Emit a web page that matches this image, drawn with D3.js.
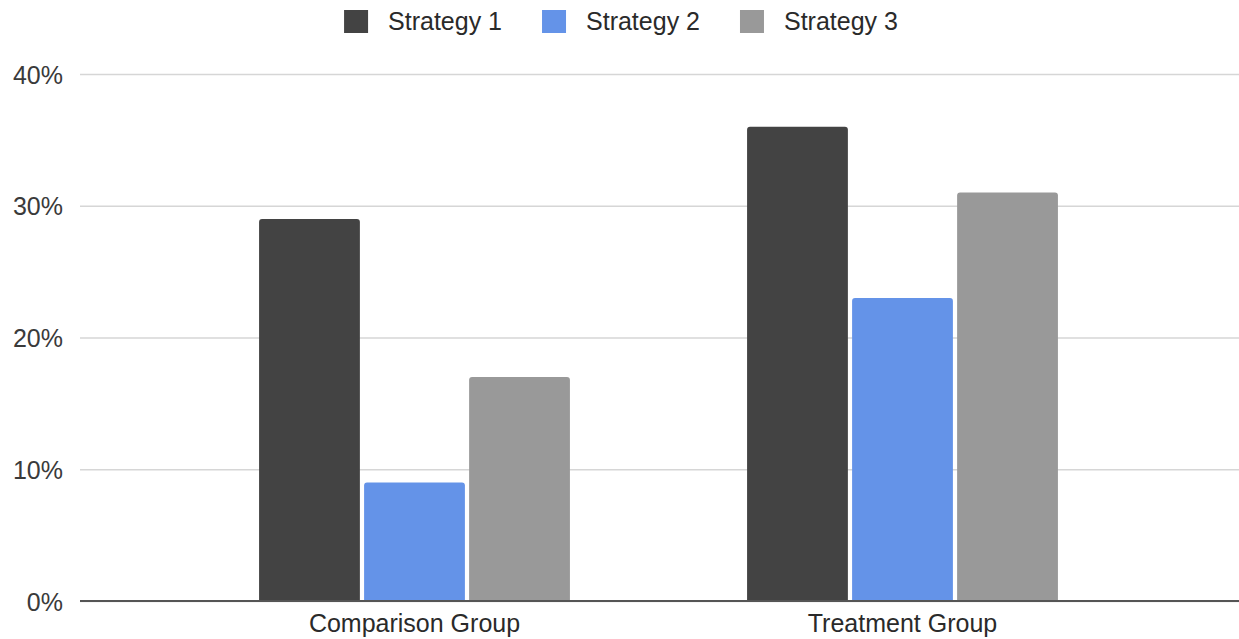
<!DOCTYPE html>
<html>
<head>
<meta charset="utf-8">
<script src="https://cdn.jsdelivr.net/npm/d3@7"></script>
<style>
  html, body { margin: 0; padding: 0; background: #fff; }
  text { font-family: "Liberation Sans", Arial, sans-serif; }
</style>
</head>
<body>
<div id="chart"></div>
<script>
const WIDTH = 1239;
const HEIGHT = 639;

// data
const groups = ['Comparison Group', 'Treatment Group'];
const series = ['Strategy 1', 'Strategy 2', 'Strategy 3'];
const strategy1 = [29, 36];
const strategy2 = [9, 23];
const strategy3 = [17, 31];
const yTicks = [0, 10, 20, 30, 40];
const colors = ['#434343', '#6493e8', '#999999'];

const values = [strategy1, strategy2, strategy3];

const SVG = d3.select('#chart')
    .append('svg')
    .attr('width', WIDTH)
    .attr('height', HEIGHT);

const plot = { left: 80, right: 1239, top: 74, bottom: 601 };

const y = d3.scaleLinear()
    .domain([0, 40])
    .range([plot.bottom, plot.top]);

const x0 = d3.scaleBand()
    .domain(groups)
    .range([170.5, 1146.5])
    .paddingInner(0.363)
    .paddingOuter(0.1815);

const x1 = d3.scaleBand()
    .domain(series)
    .range([0, x0.bandwidth()])
    .paddingInner(0.04);

// gridlines + tick labels
const yAxis = d3.axisLeft(y)
    .tickValues(yTicks)
    .tickSize(-(plot.right - plot.left))
    .tickPadding(17)
    .tickFormat(d => d + '%');

const gy = SVG.append('g')
    .attr('transform', `translate(${plot.left},0)`)
    .call(yAxis);
gy.select('.domain').remove();
gy.selectAll('.tick line')
    .attr('stroke', '#d6d6d6')
    .attr('stroke-width', 1.5);
gy.selectAll('.tick text')
    .attr('fill', '#3a3a3a')
    .attr('font-size', 25)
    .attr('dy', '0.36em');

// bars, slightly rounded on top
function barPath(x, top, w, bottom) {
    const r = Math.min(3, (bottom - top) / 2);
    return `M${x},${bottom}V${top + r}Q${x},${top} ${x + r},${top}` +
        `H${x + w - r}Q${x + w},${top} ${x + w},${top + r}V${bottom}Z`;
}

const bars = [];
groups.forEach((g, gi) => {
    series.forEach((s, si) => {
        bars.push({ group: g, series: s, value: values[si][gi], color: colors[si] });
    });
});

SVG.append('g')
    .attr('class', 'bars')
    .selectAll('path')
    .data(bars)
    .enter().append('path')
    .attr('fill', d => d.color)
    .attr('d', d => barPath(x0(d.group) + x1(d.series), y(d.value), x1.bandwidth(), y(0)));

// baseline + category labels
const xAxis = d3.axisBottom(x0).tickSize(0).tickPadding(13);
const gx = SVG.append('g')
    .attr('transform', `translate(0,${plot.bottom})`)
    .call(xAxis);
gx.select('.domain').remove();
gx.selectAll('.tick text')
    .attr('fill', '#2a2a2a')
    .attr('font-size', 25);

SVG.append('line')
    .attr('x1', plot.left)
    .attr('x2', plot.right)
    .attr('y1', plot.bottom)
    .attr('y2', plot.bottom)
    .attr('stroke', '#555')
    .attr('stroke-width', 2);

// legend, centred on top
const legend = SVG.append('g').attr('class', 'legend');
const items = legend.selectAll('g')
    .data(series)
    .enter().append('g');
items.append('rect')
    .attr('width', 24)
    .attr('height', 23)
    .attr('y', 10)
    .attr('fill', (d, i) => colors[i]);
items.append('text')
    .attr('x', 44)
    .attr('y', 30)
    .attr('font-size', 25)
    .attr('fill', '#2a2a2a')
    .text(d => d);

let offset = 0;
const widths = [];
items.each(function () {
    widths.push(44 + d3.select(this).select('text').node().getComputedTextLength());
});
const gap = 40;
const total = d3.sum(widths) + gap * (widths.length - 1);
offset = 621 - total / 2;
items.attr('transform', (d, i) => {
    const t = `translate(${offset},0)`;
    offset += widths[i] + gap;
    return t;
});
</script>
</body>
</html>
